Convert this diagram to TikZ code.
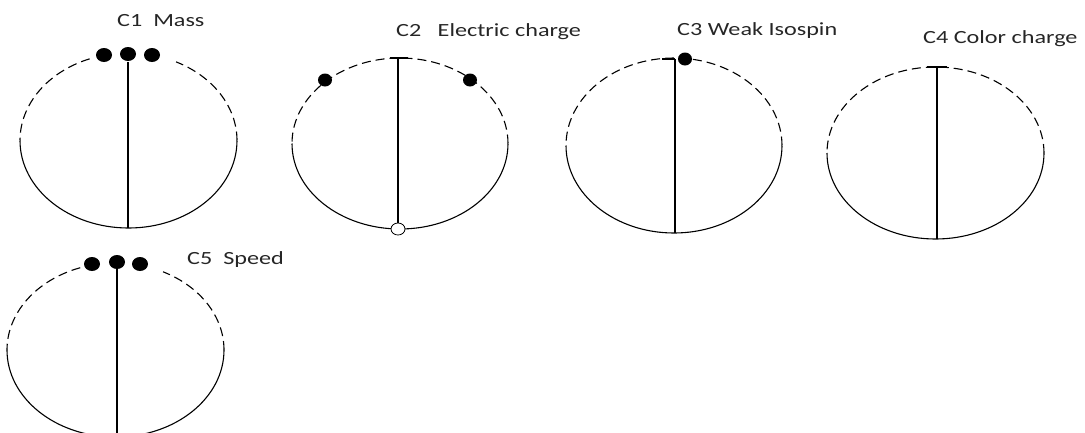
\documentclass[tikz,border=0pt]{standalone}
\usepackage{fontspec}
\setmainfont{Carlito}
\usetikzlibrary{shapes.geometric}
\newcommand{\lblx}[1]{\scalebox{1.3}[1]{#1}}
\tikzset{
  dasharc/.style={line width=1.1pt, dash pattern=on 9pt off 5pt},
  solidarc/.style={line width=1.1pt},
  axisline/.style={line width=1.3pt},
  tick/.style={line width=1.2pt},
  dotb/.style={ellipse, fill=black, inner sep=0pt, minimum width=16pt, minimum height=14pt},
  dots/.style={ellipse, fill=black, inner sep=0pt, minimum width=14pt, minimum height=13pt},
  hole/.style={ellipse, draw, fill=white, inner sep=0pt, minimum width=14pt, minimum height=12pt, line width=0.8pt},
  lbl/.style={font=\fontsize{18.6}{20}\selectfont, text=black!85, inner sep=0pt, anchor=base west}
}
\begin{document}
\begin{tikzpicture}[x=1pt,y=1pt]
\useasboundingbox (0,0) rectangle (1085,-432);
\clip (0,0) rectangle (1085,-432);

% ---------- C1 Mass ----------
\node[lbl] (l1) at (117,-26) {\lblx{C1~~Mass}};
\draw[dasharc] (128.5,-140.5) ++(0:108.5 and 87.5) arc[start angle=0, end angle=64, x radius=108.5, y radius=87.5];
\draw[dasharc] (128.5,-140.5) ++(111:108.5 and 87.5) arc[start angle=111, end angle=180, x radius=108.5, y radius=87.5];
\draw[solidarc] (128.5,-140.5) ++(180:108.5 and 87.5) arc[start angle=180, end angle=360, x radius=108.5, y radius=87.5];
\coordinate (c1t) at (128,-62);
\coordinate (c1b) at (128,-228);
\draw[axisline] (c1t) -- (c1b);
\node[dotb] (d1a) at (104,-55) {};
\node[dotb] (d1b) at (128,-54) {};
\node[dotb] (d1c) at (152,-55) {};

% ---------- C2 Electric charge ----------
\node[lbl] (l2) at (396,-36) {\lblx{C2~~~Electric charge}};
\draw[dasharc] (400,-143.5) ++(0:108 and 85.5) arc[start angle=0, end angle=180, x radius=108, y radius=85.5];
\draw[solidarc] (400,-143.5) ++(180:108 and 85.5) arc[start angle=180, end angle=360, x radius=108, y radius=85.5];
\coordinate (c2t) at (398,-58);
\coordinate (c2tl) at (390,-58);
\coordinate (c2tr) at (408,-58);
\node[hole] (h2) at (398,-229) {};
\draw[tick] (c2tl) -- (c2tr);
\draw[axisline] (c2t) -- (h2.north);
\node[dots] (d2a) at (325,-80) {};
\node[dots] (d2b) at (470,-80) {};

% ---------- C3 Weak Isospin ----------
\node[lbl] (l3) at (677,-35) {\lblx{C3 Weak Isospin}};
\draw[dasharc] (674,-145.5) ++(0:108 and 87.5) arc[start angle=0, end angle=180, x radius=108, y radius=87.5];
\draw[solidarc] (674,-145.5) ++(180:108 and 87.5) arc[start angle=180, end angle=360, x radius=108, y radius=87.5];
\coordinate (c3t) at (675,-59);
\coordinate (c3tl) at (662,-59);
\coordinate (c3b) at (675,-233);
\draw[tick] (c3tl) -- (c3t);
\draw[axisline] (c3t) -- (c3b);
\node[dots] (d3) at (685,-59) {};

% ---------- C4 Color charge ----------
\node[lbl] (l4) at (923,-43) {\lblx{C4 Color charge}};
\draw[dasharc] (935.5,-153) ++(0:108.5 and 86) arc[start angle=0, end angle=180, x radius=108.5, y radius=86];
\draw[solidarc] (935.5,-153) ++(180:108.5 and 86) arc[start angle=180, end angle=360, x radius=108.5, y radius=86];
\coordinate (c4t) at (937,-67);
\coordinate (c4tl) at (927,-67);
\coordinate (c4tr) at (947,-67);
\coordinate (c4b) at (937,-239);
\draw[tick] (c4tl) -- (c4tr);
\draw[axisline] (c4t) -- (c4b);

% ---------- C5 Speed ----------
\node[lbl] (l5) at (187,-264) {\lblx{C5~~Speed}};
\draw[dasharc] (115.5,-350) ++(0:108.5 and 87) arc[start angle=0, end angle=64, x radius=108.5, y radius=87];
\draw[dasharc] (115.5,-350) ++(109:108.5 and 87) arc[start angle=109, end angle=180, x radius=108.5, y radius=87];
\draw[solidarc] (115.5,-350) ++(180:108.5 and 87) arc[start angle=180, end angle=360, x radius=108.5, y radius=87];
\coordinate (c5t) at (117,-268);
\coordinate (c5b) at (117,-440);
\draw[axisline] (c5t) -- (c5b);
\node[dotb] (d5a) at (92,-264) {};
\node[dotb] (d5b) at (117,-262) {};
\node[dotb] (d5c) at (140,-264) {};
\end{tikzpicture}
\end{document}
